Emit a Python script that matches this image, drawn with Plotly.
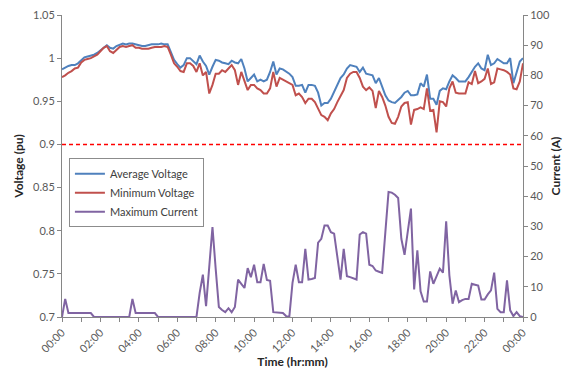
import pandas as pd
import plotly.graph_objects as go

# 10-minute samples over one day
times = pd.date_range("2000-01-01 00:00", "2000-01-02 00:00", freq="10min")

avg_voltage = [
    0.987, 0.989, 0.991, 0.992, 0.992, 0.994, 0.998, 1.001, 1.002, 1.003,
    1.004, 1.006, 1.009, 1.013, 1.015, 1.012, 1.011, 1.014, 1.016, 1.017,
    1.016, 1.017, 1.017, 1.016, 1.015, 1.014, 1.014, 1.015, 1.016, 1.016,
    1.016, 1.017, 1.016, 1.016, 1.008, 0.998, 0.993, 0.989, 0.992, 1.000,
    1.000, 0.997, 0.993, 1.003, 0.996, 0.991, 0.981, 0.990, 0.998, 0.997,
    0.995, 0.994, 0.993, 0.997, 0.995, 0.994, 0.999, 0.988, 0.973, 0.977,
    0.981, 0.973, 0.975, 0.973, 0.975, 0.984, 0.996, 0.981, 0.988, 0.987,
    0.985, 0.982, 0.978, 0.968, 0.968, 0.969, 0.960, 0.969, 0.969, 0.968,
    0.960, 0.945, 0.948, 0.948, 0.953, 0.961, 0.969, 0.977, 0.981, 0.988,
    0.992, 0.991, 0.990, 0.984, 0.989, 0.982, 0.981, 0.980, 0.971, 0.977,
    0.967, 0.957, 0.951, 0.949, 0.948, 0.951, 0.955, 0.960, 0.962, 0.957,
    0.957, 0.958, 0.971, 0.967, 0.981, 0.953, 0.953, 0.946, 0.962, 0.965,
    0.964, 0.973, 0.980, 0.977, 0.973, 0.973, 0.973, 0.978, 0.984, 0.990,
    0.994, 0.988, 0.986, 1.004, 0.992, 0.994, 0.999, 0.996, 0.994, 0.994,
    1.000, 0.971, 0.984, 0.996, 1.000,
]

min_voltage = [
    0.978, 0.980, 0.983, 0.985, 0.988, 0.989, 0.995, 0.998, 0.999, 1.000,
    1.002, 1.004, 1.008, 1.012, 1.014, 1.008, 1.006, 1.009, 1.013, 1.014,
    1.013, 1.014, 1.015, 1.012, 1.012, 1.011, 1.011, 1.011, 1.012, 1.013,
    1.013, 1.013, 1.014, 1.013, 1.004, 0.994, 0.990, 0.985, 0.984, 0.994,
    0.994, 0.991, 0.984, 0.994, 0.980, 0.984, 0.959, 0.969, 0.982, 0.982,
    0.986, 0.984, 0.988, 0.992, 0.986, 0.969, 0.984, 0.973, 0.963, 0.969,
    0.969, 0.965, 0.963, 0.959, 0.959, 0.965, 0.984, 0.967, 0.977, 0.975,
    0.973, 0.971, 0.969, 0.957, 0.959, 0.955, 0.948, 0.953, 0.953, 0.949,
    0.942, 0.934, 0.932, 0.928, 0.936, 0.941, 0.949, 0.957, 0.963, 0.977,
    0.982, 0.984, 0.984, 0.977, 0.967, 0.963, 0.966, 0.962, 0.942, 0.962,
    0.955, 0.945, 0.932, 0.925, 0.924, 0.932, 0.944, 0.948, 0.949, 0.923,
    0.940, 0.941, 0.943, 0.941, 0.965, 0.939, 0.940, 0.914, 0.950, 0.949,
    0.944, 0.965, 0.973, 0.960, 0.959, 0.959, 0.959, 0.972, 0.970, 0.985,
    0.971, 0.973, 0.976, 0.988, 0.970, 0.972, 0.988, 0.987, 0.986, 0.984,
    0.981, 0.965, 0.964, 0.973, 0.994,
]

max_current = [
    0, 6, 1.3, 1.3, 1.3, 1.3, 1.3, 1.3, 1.3, 1.3,
    0, 0, 0, 0, 0, 0, 0, 0, 0, 0,
    0, 0, 6, 1.3, 1.3, 1.3, 1.3, 1.3, 1.3, 1.3,
    0, 0, 0, 0, 0, 0, 0, 0, 0, 0,
    0, 0, 0, 8, 14, 3.6, 17, 29.8, 16, 3.3,
    2.3, 1.6, 2.9, 1.6, 3.3, 12.4, 11, 9.6, 16.2, 13.2,
    17.3, 11.5, 11.5, 17.6, 12.3, 12, 1.6, 1.5, 1.4, 1.3,
    0.3, 0, 11.3, 17.3, 11.5, 11.5, 22.6, 12.4, 12.6, 12.9,
    24.6, 25.9, 30.3, 30.3, 28.1, 27.6, 20, 12.4, 22.6, 13.5,
    13.2, 12.8, 12.4, 27.3, 28.1, 27.6, 17.3, 16.9, 15.4, 15,
    14.6, 28, 41.4, 41.2, 40.5, 39.4, 25.9, 20.6, 28, 35.9,
    9.1, 22.1, 8.5, 5.1, 5.1, 15.1, 11, 13.8, 16, 14.7,
    31.7, 13.8, 4.4, 8.8, 4.9, 5.6, 6, 6, 11, 10.7,
    10.4, 5.8, 5.8, 7.5, 8.8, 14.7, 2.7, 1.6, 1.6, 12.1,
    2.2, 0.3, 1.6, 0.3, 0,
]

voltage_limit = 0.9

voltage_ticks = [0.7, 0.75, 0.8, 0.85, 0.9, 0.95, 1.0, 1.05]
voltage_tick_text = ["0.7", "0.75", "0.8", "0.85", "0.9", "0.95", "1", "1.05"]

FONT = "Lato, 'Open Sans', sans-serif"
AXIS_GREY = "#868686"
TICK_TEXT = "#595959"
TITLE_TEXT = "#262626"

fig = go.Figure()
fig.add_trace(go.Scatter(
    x=times, y=avg_voltage, name="Average Voltage", mode="lines",
    line=dict(color="#4F81BD", width=2), yaxis="y"))
fig.add_trace(go.Scatter(
    x=times, y=min_voltage, name="Minimum Voltage", mode="lines",
    line=dict(color="#C0504D", width=2), yaxis="y"))
fig.add_trace(go.Scatter(
    x=times, y=max_current, name="Maximum Current", mode="lines",
    line=dict(color="#8064A2", width=2), yaxis="y2"))

# statutory lower voltage limit
fig.add_hline(y=voltage_limit, line=dict(color="#FF0000", width=1.5, dash="4px,3px"),
              layer="below")

fig.update_layout(
    width=563, height=369,
    margin=dict(l=62, r=40, t=15, b=52, autoexpand=False),
    paper_bgcolor="white", plot_bgcolor="white",
    font=dict(family=FONT, size=11, color=TICK_TEXT),
    showlegend=True,
    legend=dict(
        x=0.015, y=0.526, xanchor="left", yanchor="top",
        bgcolor="white", bordercolor="#8c8c8c", borderwidth=1,
        font=dict(family=FONT, size=11, color="#404040"),
        tracegroupgap=0, itemwidth=30,
    ),
    xaxis=dict(
        type="date", automargin=False,
        range=[times[0], times[-1]],
        tickformat="%H:%M", dtick=2 * 3600 * 1000,
        tick0="2000-01-01 00:00",
        tickangle=-45,
        showline=True, linecolor=AXIS_GREY, linewidth=1,
        ticks="outside", ticklen=4, tickcolor=AXIS_GREY,
        minor=dict(dtick=3600 * 1000, ticks="outside", ticklen=4, tickcolor=AXIS_GREY),
        showgrid=False, zeroline=False,
        tickfont=dict(family=FONT, size=11, color=TICK_TEXT),
        title=dict(text="<b>Time (hr:mm)</b>", standoff=2,
                   font=dict(family=FONT, size=12, color=TITLE_TEXT)),
    ),
    yaxis=dict(
        automargin=False,
        range=[0.7, 1.05],
        tickvals=voltage_ticks, ticktext=voltage_tick_text,
        showline=True, linecolor=AXIS_GREY, linewidth=1,
        ticks="outside", ticklen=4, tickcolor=AXIS_GREY,
        showgrid=False, zeroline=False,
        tickfont=dict(family=FONT, size=11, color=TICK_TEXT),
        title=dict(text="<b>Voltage (pu)</b>", standoff=6,
                   font=dict(family=FONT, size=12, color=TITLE_TEXT)),
    ),
    yaxis2=dict(
        automargin=False,
        range=[0, 100], dtick=10, overlaying="y", side="right",
        showline=True, linecolor=AXIS_GREY, linewidth=1,
        ticks="outside", ticklen=4, tickcolor=AXIS_GREY,
        showgrid=False, zeroline=False,
        tickfont=dict(family=FONT, size=11, color=TICK_TEXT),
        title=dict(text="<b>Current (A)</b>", standoff=6,
                   font=dict(family=FONT, size=12, color=TITLE_TEXT)),
    ),
)

fig.write_html("out.html")
